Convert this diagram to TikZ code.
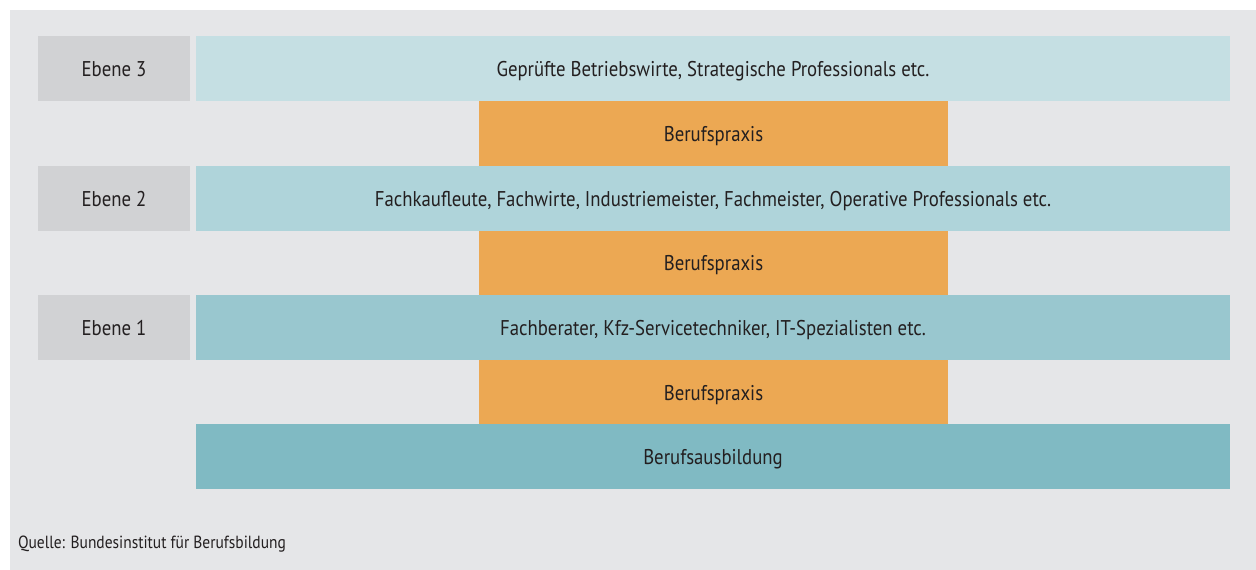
\documentclass[tikz,border=0pt]{standalone}
\usepackage{fontspec}
\setmainfont[FakeStretch=0.88]{PT Sans}
\begin{document}
\begin{tikzpicture}[x=0.75pt,y=-0.75pt,
  every node/.style={inner sep=0pt,outer sep=0pt,text=txt},
  bar/.style={draw=none,font=\fontsize{16pt}{18pt}\selectfont,text height=12pt,text depth=0pt},
  lvl/.style={bar,fill=lvlgray},
  prax/.style={bar,fill=praxis}]
\definecolor{bg}{HTML}{E5E6E8}
\definecolor{lvlgray}{HTML}{D1D2D4}
\definecolor{praxis}{HTML}{ECA853}
\definecolor{barc}{HTML}{C5DFE3}
\definecolor{barb}{HTML}{AFD4DA}
\definecolor{bara}{HTML}{99C7CF}
\definecolor{base}{HTML}{80BAC3}
\definecolor{txt}{HTML}{231F20}
\useasboundingbox (0,0) rectangle (1256,570);
\fill[white] (0,0) rectangle (1256,570);
\fill[bg] (10,10) rectangle (1256,570);
% level labels
\node[lvl,minimum width=152*0.75pt,minimum height=65*0.75pt] (e3) at (114,68.5) {Ebene 3};
\node[lvl,minimum width=152*0.75pt,minimum height=65*0.75pt] (e2) at (114,198.5) {Ebene 2};
\node[lvl,minimum width=152*0.75pt,minimum height=65*0.75pt] (e1) at (114,327.5) {Ebene 1};
% qualification bars
\node[bar,fill=barc,minimum width=1034*0.75pt,minimum height=65*0.75pt] (q3) at (713,68.5) {Geprüfte Betriebswirte, Strategische Professionals etc.};
\node[prax,minimum width=469*0.75pt,minimum height=65*0.75pt] (p3) at (713.5,133.5) {Berufspraxis};
\node[bar,fill=barb,minimum width=1034*0.75pt,minimum height=65*0.75pt] (q2) at (713,198.5) {Fachkaufleute, Fachwirte, Industriemeister, Fachmeister, Operative Professionals etc.};
\node[prax,minimum width=469*0.75pt,minimum height=64*0.75pt] (p2) at (713.5,263) {Berufspraxis};
\node[bar,fill=bara,minimum width=1034*0.75pt,minimum height=65*0.75pt] (q1) at (713,327.5) {Fachberater, Kfz-Servicetechniker, IT-Spezialisten etc.};
\node[prax,minimum width=469*0.75pt,minimum height=64*0.75pt] (p1) at (713.5,392) {Berufspraxis};
\node[bar,fill=base,minimum width=1034*0.75pt,minimum height=65*0.75pt] (ba) at (713,456.5) {Berufsausbildung};
% source line
\node[anchor=base west,font=\fontsize{13.2pt}{15pt}\selectfont] (src) at (18,548) {Quelle: Bundesinstitut für Berufsbildung};
\end{tikzpicture}
\end{document}
